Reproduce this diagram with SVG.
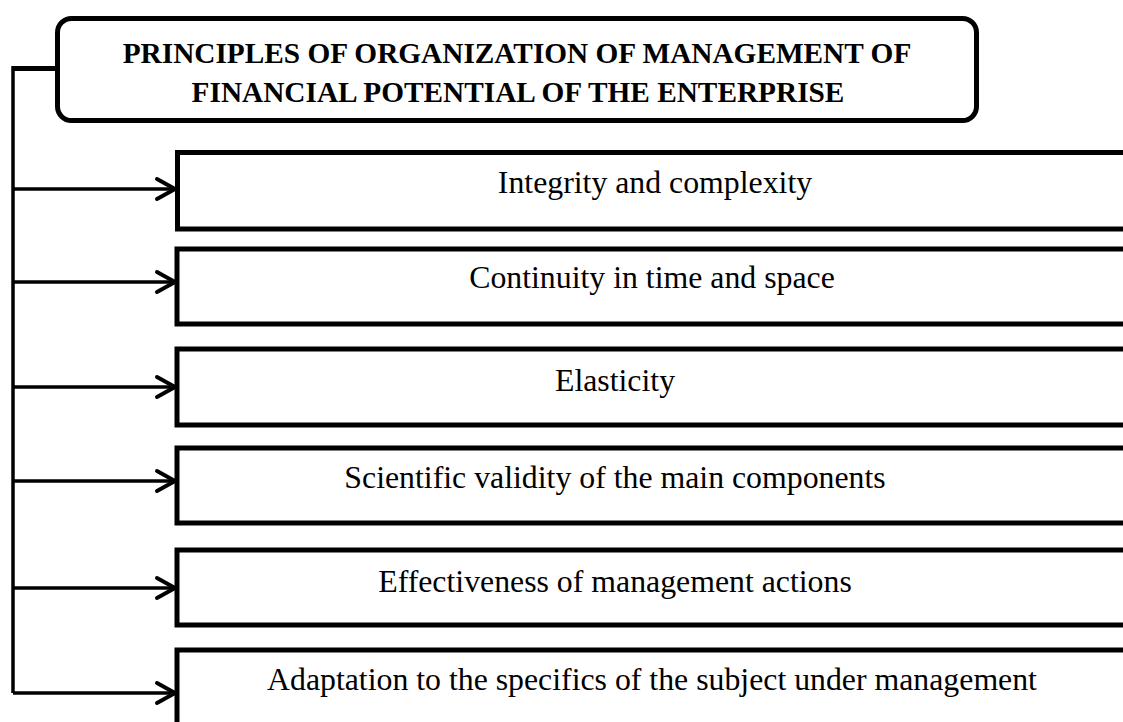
<svg xmlns="http://www.w3.org/2000/svg" width="1123" height="722" viewBox="0 0 1123 722">
  <defs>
    <style>
      .box { fill: #ffffff; stroke: #000000; stroke-width: 5; }
      .title { font-family: "Liberation Serif", "Times New Roman", serif; font-weight: bold; font-size: 29.3px; fill: #000000; text-anchor: middle; }
      .label { font-family: "Liberation Serif", "Times New Roman", serif; font-size: 31.8px; fill: #000000; text-anchor: middle; }
      .wire { fill: none; stroke: #000000; stroke-width: 3.5; }
      .head { fill: none; stroke: #000000; stroke-width: 4; stroke-linecap: round; stroke-linejoin: miter; }
    </style>
  </defs>

  <rect width="1123" height="722" fill="#ffffff"/>

  <!-- root -->
  <g id="root">
    <rect class="box" x="57.5" y="18.5" width="919" height="102" rx="14" ry="14"/>
    <text class="title" x="517" y="63">PRINCIPLES OF ORGANIZATION OF MANAGEMENT OF</text>
    <text class="title" x="518" y="102">FINANCIAL POTENTIAL OF THE ENTERPRISE</text>
  </g>

  <!-- principles; boxes run past the right edge -->
  <g id="integrity">
    <rect class="box" x="177.5" y="152.5" width="960" height="76.5"/>
    <text class="label" x="655" y="193">Integrity and complexity</text>
  </g>
  <g id="continuity">
    <rect class="box" x="177" y="249" width="960" height="75"/>
    <text class="label" x="652" y="288">Continuity in time and space</text>
  </g>
  <g id="elasticity">
    <rect class="box" x="177" y="349" width="960" height="76"/>
    <text class="label" x="615" y="391">Elasticity</text>
  </g>
  <g id="validity">
    <rect class="box" x="177" y="448" width="960" height="75"/>
    <text class="label" x="615" y="488">Scientific validity of the main components</text>
  </g>
  <g id="effectiveness">
    <rect class="box" x="177" y="550" width="960" height="75"/>
    <text class="label" x="615" y="592">Effectiveness of management actions</text>
  </g>
  <g id="adaptation">
    <rect class="box" x="177" y="650" width="960" height="100"/>
    <text class="label" x="652" y="690">Adaptation to the specifics of the subject under management</text>
  </g>

  <!-- connectors: spine from the root down the left side, one arrow per principle -->
  <g id="connectors">
    <path d="M57 68.5 H13" fill="none" stroke="#000000" stroke-width="5"/>
    <path class="wire" d="M13 66 V693"/>
    <path class="wire" d="M13 189 H174"/>
    <path class="wire" d="M13 282 H174"/>
    <path class="wire" d="M13 387 H174"/>
    <path class="wire" d="M13 481 H174"/>
    <path class="wire" d="M13 588 H174"/>
    <path class="wire" d="M13 693 H174"/>
    <path class="head" d="M157 179 L175 189 L157 199"/>
    <path class="head" d="M157 272 L175 282 L157 292"/>
    <path class="head" d="M157 377 L175 387 L157 397"/>
    <path class="head" d="M157 471 L175 481 L157 491"/>
    <path class="head" d="M157 578 L175 588 L157 598"/>
    <path class="head" d="M157 683 L175 693 L157 703"/>
  </g>
</svg>
